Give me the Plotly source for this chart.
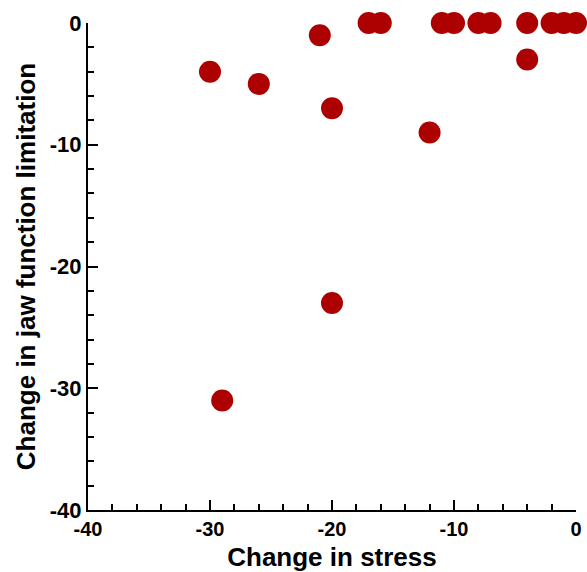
import plotly.graph_objects as go

# Data
stress_change = [-30, -29, -26, -21, -20, -20, -17, -16, -12, -11, -10, -8, -7, -4, -4, -2, -1, 0]
jaw_change    = [-4, -31, -5, -1, -7, -23, 0, 0, -9, 0, 0, 0, 0, 0, -3, 0, 0, 0]

x_ticks = [-40, -30, -20, -10, 0]
x_tick_labels = ["-40", "-30", "-20", "-10", "0"]
y_ticks = [-40, -30, -20, -10, 0]
y_tick_labels = ["-40", "-30", "-20", "-10", "0"]

FONT = "Liberation Sans, Arial, sans-serif"

fig = go.Figure()
fig.add_trace(go.Scatter(
    x=stress_change, y=jaw_change, mode="markers",
    marker=dict(color="#AD0000", size=22, line=dict(width=0)),
    cliponaxis=False, showlegend=False,
))

fig.update_layout(
    width=587, height=572,
    paper_bgcolor="white", plot_bgcolor="white",
    margin=dict(l=88, r=11, t=23, b=62, autoexpand=False),
    font=dict(family=FONT, color="black"),
)

fig.update_xaxes(
    range=[-40, 0], tickvals=x_ticks, ticktext=x_tick_labels,
    ticks="inside", ticklen=10, tickwidth=2,
    tickcolor="black", showline=True, linecolor="black", linewidth=2,
    showgrid=False, zeroline=False, mirror=False,
    tickfont=dict(family=FONT, size=20, color="black", weight="bold"),
    minor=dict(dtick=2, ticks="inside", ticklen=6, tickwidth=2, tickcolor="black", showgrid=False),
    title=dict(text="<b>Change in stress</b>", font=dict(family=FONT, size=26, color="black"), standoff=10),
    automargin=False,
)
fig.update_yaxes(
    range=[-40, 0], tickvals=y_ticks, ticktext=y_tick_labels,
    ticks="inside", ticklen=10, tickwidth=2,
    tickcolor="black", showline=True, linecolor="black", linewidth=2,
    showgrid=False, zeroline=False, mirror=False,
    tickfont=dict(family=FONT, size=22, color="black", weight="bold"),
    minor=dict(dtick=2, ticks="inside", ticklen=6, tickwidth=2, tickcolor="black", showgrid=False),
    title=dict(text="<b>Change in jaw function limitation</b>", font=dict(family=FONT, size=26, color="black"), standoff=7),
    automargin=False,
)

fig.write_html(
    "out.html",
    config={"displayModeBar": False},
    post_script="document.body.style.margin='0';document.body.style.overflow='hidden';",
)
